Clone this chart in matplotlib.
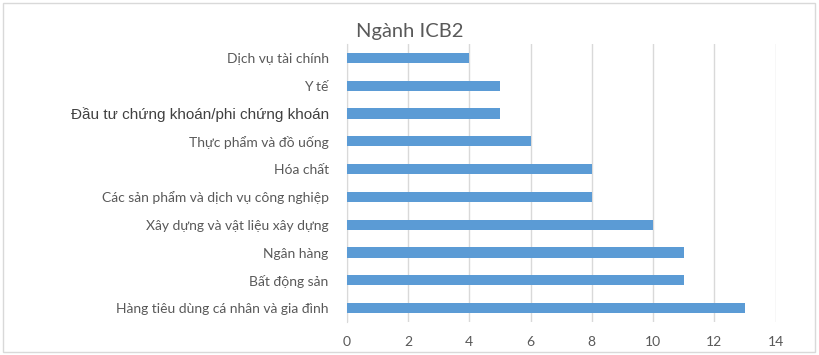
import matplotlib
matplotlib.use("Agg")
import matplotlib.pyplot as plt
from matplotlib.patches import Rectangle

# data, top to bottom as shown in the chart
categories = [
    "Dịch vụ tài chính",
    "Y tế",
    "Đầu tư chứng khoán/phi chứng khoán",
    "Thực phẩm và đồ uống",
    "Hóa chất",
    "Các sản phẩm và dịch vụ công nghiệp",
    "Xây dựng và vật liệu xây dựng",
    "Ngân hàng",
    "Bất động sản",
    "Hàng tiêu dùng cá nhân và gia đình",
]
counts = [4, 5, 5, 6, 8, 8, 10, 11, 11, 13]
x_ticks = [0, 2, 4, 6, 8, 10, 12, 14]

bar_color = "#5B9BD5"
grid_color = "#D9D9D9"
text_color = "#595959"

fig = plt.figure(figsize=(8.2, 3.55), dpi=100)
fig.patch.set_facecolor("white")

# chart area border
fig.patches.append(Rectangle((3 / 820, 3 / 355), 812 / 820, 349 / 355,
                             transform=fig.transFigure, fill=False,
                             edgecolor=grid_color, linewidth=1))

ax = fig.add_axes([346.7 / 820, 33 / 355, 429 / 820, 278 / 355])

ypos = list(range(len(categories)))
ax.barh(ypos, counts, height=0.36, color=bar_color, zorder=3)

ax.set_xlim(0, 14)
ax.set_ylim(len(categories) - 0.5, -0.5)
ax.set_xticks(x_ticks)
ax.set_xticklabels([str(t) for t in x_ticks], family="Lato", fontsize=10,
                   color=text_color)
ax.set_yticks(ypos)
ax.set_yticklabels(categories, family="Lato", fontsize=10, color=text_color)

# one label is in a different font in the original
for lab in ax.get_yticklabels():
    if lab.get_text().startswith("Đầu tư"):
        lab.set_family("Liberation Sans")
        lab.set_fontsize(11)
        lab.set_color("#404040")

ax.tick_params(axis="both", length=0)
ax.tick_params(axis="y", pad=13)
ax.tick_params(axis="x", pad=10)

ax.grid(axis="x", color=grid_color, linewidth=1, zorder=0)
for side in ["top", "right", "bottom"]:
    ax.spines[side].set_visible(False)
ax.spines["left"].set_color(grid_color)

fig.text(0.5, 0.912, "Ngành ICB2", ha="center", va="center",
         family="Lato", fontsize=14.5, color=text_color)

fig.savefig("out.png", dpi=100)
